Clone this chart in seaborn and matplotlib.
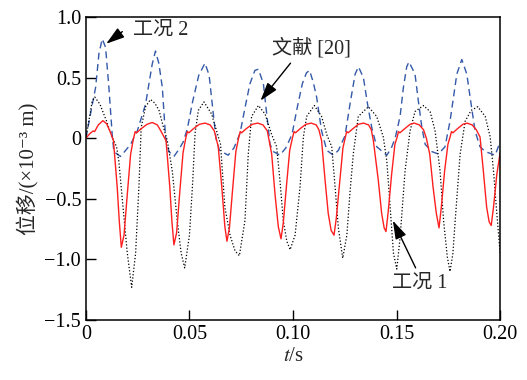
import matplotlib
matplotlib.use("Agg")
import matplotlib.pyplot as plt
import seaborn as sns
import pandas as pd

# 工况 1 (red, solid)
t_case1 = [0.0000, 0.0020, 0.0035, 0.0042, 0.0060, 0.0082, 0.0100, 0.0118, 0.0133, 0.0151, 0.0161, 0.0171,
           0.0184, 0.0200, 0.0216, 0.0230, 0.0238, 0.0245, 0.0268, 0.0295, 0.0320, 0.0345, 0.0362, 0.0387, 0.0405, 0.0415, 0.0425,
           0.0438, 0.0453, 0.0469, 0.0482, 0.0490, 0.0497, 0.0520, 0.0548, 0.0575, 0.0600, 0.0620, 0.0639, 0.0656, 0.0671, 0.0681,
           0.0693, 0.0708, 0.0724, 0.0737, 0.0745, 0.0752, 0.0775, 0.0803, 0.0830, 0.0855, 0.0876, 0.0897, 0.0913, 0.0929, 0.0942,
           0.0953, 0.0968, 0.0984, 0.0997, 0.1005, 0.1012, 0.1035, 0.1062, 0.1088, 0.1112, 0.1125, 0.1138, 0.1155, 0.1170, 0.1184, 0.1198,
           0.1209, 0.1225, 0.1241, 0.1253, 0.1259, 0.1266, 0.1290, 0.1315, 0.1340, 0.1365, 0.1378, 0.1388, 0.1412, 0.1428, 0.1440, 0.1449,
           0.1460, 0.1476, 0.1492, 0.1503, 0.1509, 0.1516, 0.1540, 0.1565, 0.1585, 0.1610, 0.1630, 0.1644, 0.1660, 0.1676, 0.1692, 0.1705,
           0.1716, 0.1732, 0.1748, 0.1760, 0.1765, 0.1772, 0.1795, 0.1820, 0.1840, 0.1865, 0.1885, 0.1903, 0.1919, 0.1935, 0.1947, 0.1957,
           0.1968, 0.1984, 0.2000]
y_case1 = [0.00, 0.04, 0.06, 0.055, 0.11, 0.145, 0.12, 0.05, -0.02, -0.40, -0.68, -0.90,
           -0.80, -0.46, -0.13, 0.00, 0.055, 0.045, 0.08, 0.115, 0.13, 0.11, 0.06, -0.02, -0.40, -0.68, -0.88,
           -0.78, -0.45, -0.12, 0.00, 0.055, 0.045, 0.08, 0.115, 0.125, 0.11, 0.06, -0.07, -0.40, -0.73, -0.85,
           -0.74, -0.43, -0.11, 0.00, 0.055, 0.045, 0.08, 0.115, 0.125, 0.11, 0.06, -0.13, -0.46, -0.73, -0.83,
           -0.70, -0.40, -0.10, 0.00, 0.055, 0.045, 0.08, 0.115, 0.125, 0.11, 0.07, -0.02, -0.35, -0.62, -0.76, -0.80,
           -0.66, -0.37, -0.08, 0.01, 0.055, 0.045, 0.08, 0.115, 0.125, 0.11, 0.07, -0.02, -0.35, -0.62, -0.74, -0.77,
           -0.60, -0.30, -0.05, 0.01, 0.055, 0.045, 0.08, 0.115, 0.125, 0.11, 0.07, 0.00, -0.13, -0.40, -0.62, -0.74,
           -0.57, -0.27, -0.05, 0.02, 0.055, 0.045, 0.08, 0.115, 0.125, 0.11, 0.07, 0.01, -0.27, -0.57, -0.69, -0.72,
           -0.57, -0.30, -0.12]

# 文献 [20] (black, dotted)
t_lit = [0.0000, 0.0015, 0.0030, 0.0043, 0.0068, 0.0100, 0.0124, 0.0148, 0.0159, 0.0176, 0.0200, 0.0221,
         0.0240, 0.0256, 0.0267, 0.0288, 0.0312, 0.0333, 0.0353, 0.0373, 0.0393, 0.0417, 0.0441, 0.0460, 0.0477,
         0.0500, 0.0516, 0.0527, 0.0543, 0.0570, 0.0607, 0.0631, 0.0650, 0.0671, 0.0696, 0.0720, 0.0741,
         0.0768, 0.0784, 0.0800, 0.0833, 0.0865, 0.0897, 0.0921, 0.0937, 0.0953, 0.0970, 0.0986,
         0.1010, 0.1034, 0.1050, 0.1066, 0.1103, 0.1138, 0.1163, 0.1187, 0.1203, 0.1219, 0.1240,
         0.1260, 0.1275, 0.1291, 0.1315, 0.1364, 0.1404, 0.1436, 0.1453, 0.1469, 0.1485, 0.1501,
         0.1517, 0.1541, 0.1565, 0.1589, 0.1630, 0.1662, 0.1686, 0.1710, 0.1727, 0.1745, 0.1758,
         0.1772, 0.1783, 0.1807, 0.1831, 0.1860, 0.1892, 0.1928, 0.1952, 0.1968, 0.1984, 0.2000]
y_lit = [0.00, 0.15, 0.30, 0.34, 0.28, 0.14, 0.02, -0.07, -0.19, -0.51, -0.95, -1.23,
         -0.95, -0.40, 0.09, 0.26, 0.32, 0.29, 0.23, 0.10, -0.02, -0.27, -0.68, -0.95, -1.07,
         -0.80, -0.35, 0.04, 0.23, 0.30, 0.20, 0.06, -0.05, -0.57, -0.80, -0.93, -0.97,
         -0.68, -0.13, 0.18, 0.27, 0.20, 0.03, -0.07, -0.35, -0.68, -0.85, -0.92,
         -0.80, -0.40, 0.01, 0.18, 0.27, 0.18, 0.03, -0.07, -0.40, -0.74, -0.99,
         -0.80, -0.45, -0.13, 0.18, 0.26, 0.18, 0.01, -0.19, -0.57, -0.95, -1.08,
         -0.82, -0.27, 0.06, 0.22, 0.27, 0.22, 0.06, -0.27, -0.68, -0.98, -1.10,
         -0.95, -0.68, -0.13, 0.14, 0.23, 0.26, 0.18, 0.01, -0.27, -0.62, -0.95]

# 工况 2 (blue, dashed)
t_case2 = [0.0000, 0.0031, 0.0047, 0.0063, 0.0079, 0.0095, 0.0111, 0.0127, 0.0135, 0.0150, 0.0167,
           0.0192, 0.0216, 0.0248, 0.0288, 0.0320, 0.0336, 0.0352, 0.0369, 0.0385, 0.0401, 0.0425,
           0.0450, 0.0470, 0.0490, 0.0515, 0.0545, 0.0575, 0.0595, 0.0612, 0.0628, 0.0645, 0.0687,
           0.0715, 0.0744, 0.0768, 0.0792, 0.0816, 0.0833, 0.0857, 0.0873, 0.0889, 0.0905, 0.0937,
           0.0965, 0.0995, 0.1020, 0.1045, 0.1065, 0.1080, 0.1098, 0.1114, 0.1138, 0.1163, 0.1195,
           0.1219, 0.1251, 0.1275, 0.1300, 0.1316, 0.1340, 0.1360, 0.1380, 0.1404, 0.1453,
           0.1475, 0.1493, 0.1517, 0.1533, 0.1549, 0.1560, 0.1589, 0.1605, 0.1622, 0.1638, 0.1670, 0.1702,
           0.1734, 0.1758, 0.1775, 0.1791, 0.1815, 0.1839, 0.1855, 0.1879, 0.1903, 0.1928, 0.1976, 0.2000]
y_case2 = [0.00, 0.28, 0.42, 0.70, 0.82, 0.75, 0.42, 0.03, -0.11, -0.13, -0.15,
           -0.10, -0.05, 0.06, 0.28, 0.61, 0.72, 0.62, 0.42, 0.00, -0.11, -0.15,
           -0.09, -0.03, 0.08, 0.30, 0.52, 0.62, 0.52, 0.25, 0.00, -0.10, -0.14,
           -0.08, 0.04, 0.25, 0.45, 0.56, 0.57, 0.45, 0.20, -0.05, -0.11, -0.14,
           -0.08, 0.03, 0.25, 0.45, 0.54, 0.56, 0.46, 0.34, 0.06, -0.10, -0.14,
           -0.10, 0.02, 0.28, 0.53, 0.59, 0.50, 0.28, 0.09, -0.07, -0.14,
           -0.08, 0.00, 0.18, 0.42, 0.59, 0.63, 0.53, 0.31, 0.09, -0.05, -0.11, -0.13,
           -0.07, 0.14, 0.34, 0.53, 0.65, 0.53, 0.34, 0.06, -0.07, -0.11, -0.14, -0.03]

x_ticks = [0, 0.05, 0.10, 0.15, 0.20]
x_labels = ["0", "0.05", "0.10", "0.15", "0.20"]
y_ticks = [-1.5, -1.0, -0.5, 0, 0.5, 1.0]
y_labels = ["\u22121.5", "\u22121.0", "\u22120.5", "0", "0.5", "1.0"]

# callouts: label, text position, arrow tail, arrow head
notes = [
    ("工况 2", (0.0225, 0.89), "left", (0.0176, 0.88), (0.0098, 0.78)),
    ("文献 [20]", (0.1087, 0.74), "center", (0.0988, 0.62), (0.0843, 0.31)),
    ("工况 1", (0.161, -1.20), "center", (0.1592, -1.07), (0.1482, -0.68)),
]

sns.set_style("ticks")
plt.rcParams["font.family"] = ["Liberation Serif", "Noto Sans CJK SC", "DejaVu Serif"]
plt.rcParams["mathtext.fontset"] = "stix"

fig = plt.figure(figsize=(5.27, 3.80), dpi=100)
ax = fig.add_axes([0.163, 0.158, 0.786, 0.797])

df1 = pd.DataFrame({"t": t_case1, "y": y_case1})
df_lit = pd.DataFrame({"t": t_lit, "y": y_lit})
df2 = pd.DataFrame({"t": t_case2, "y": y_case2})

sns.lineplot(data=df2, x="t", y="y", ax=ax, color="#3459a8", lw=1.0,
             linestyle=(0, (5, 3.2)), sort=False, estimator=None)
sns.lineplot(data=df_lit, x="t", y="y", ax=ax, color="black", lw=0.9,
             linestyle=(0, (1, 1.6)), sort=False, estimator=None)
sns.lineplot(data=df1, x="t", y="y", ax=ax, color="#ff1f1f", lw=1.0,
             sort=False, estimator=None)

ax.set_xlim(0, 0.20)
ax.set_ylim(-1.5, 1.0)
ax.set_xticks(x_ticks)
ax.set_xticklabels(x_labels)
ax.set_yticks(y_ticks)
ax.set_yticklabels(y_labels)
ax.tick_params(direction="in", length=7, width=1, labelsize=14.5, colors="black",
               top=False, right=False)
for s in ax.spines.values():
    s.set_visible(True)
    s.set_linewidth(1.1)
    s.set_color("black")

ax.set_xlabel("$t$/s", fontsize=15, labelpad=2)
ax.set_ylabel("位移/(×10\u207b\u00b3 m)", fontsize=15, labelpad=4)

for label, pos, ha, tail, head in notes:
    ax.text(pos[0], pos[1], label, fontsize=14.5, ha=ha, va="center")
    ax.annotate("", xy=head, xytext=tail,
                arrowprops=dict(arrowstyle="-|>,head_length=0.8,head_width=0.25",
                                color="black", lw=1.0, shrinkA=0, shrinkB=0,
                                mutation_scale=14))

fig.savefig("out.png", dpi=100)
